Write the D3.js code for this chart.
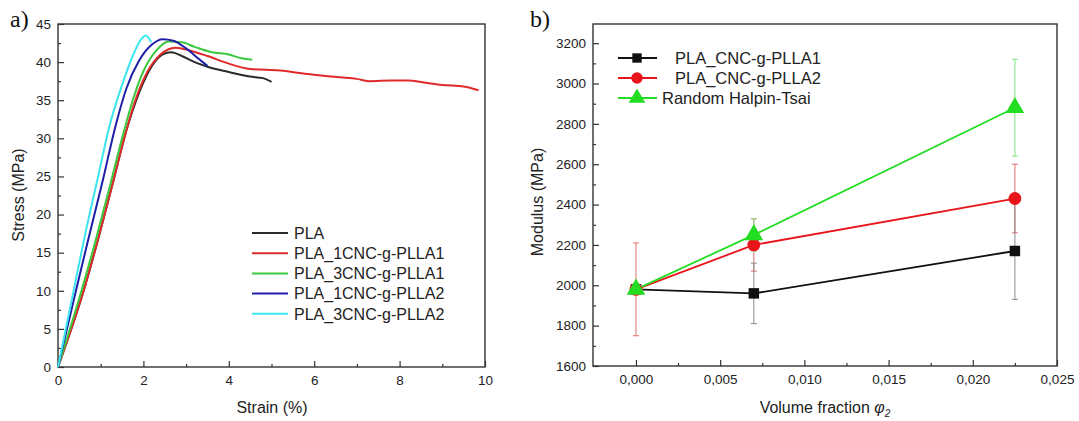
<!DOCTYPE html>
<html>
<head>
<meta charset="utf-8">
<script src="https://cdn.jsdelivr.net/npm/d3@7"></script>
<style>
  body { margin: 0; background: #fff; }
  svg { font-family: "Liberation Sans", Arial, sans-serif; }
</style>
</head>
<body>
<svg width="1079" height="421"></svg>
<script>
// ---- panel a data: stress-strain curves [strain %, stress MPa]
var pla = [[0,0],[0.6,10],[0.95,17],[1.3,24.5],[1.6,31],[1.9,36],[2.2,39.5],[2.45,41],[2.65,41.3],[2.9,40.8],[3.2,40],[3.5,39.4],[4,38.7],[4.5,38.1],[4.8,37.9],[5,37.4]];
var pla1a = [[0,0],[0.6,10],[0.95,17],[1.3,24.5],[1.55,30],[1.8,34.8],[2.1,38.8],[2.4,41],[2.75,41.9],[3.1,41.5],[3.5,40.8],[4,39.8],[4.5,39.1],[5.2,38.9],[5.9,38.4],[6.6,38],[7,37.8],[7.3,37.5],[7.8,37.6],[8.2,37.6],[8.6,37.3],[9,37],[9.5,36.8],[9.85,36.3]];
var pla3a = [[0,0],[0.55,10],[0.9,17],[1.25,24.5],[1.5,30],[1.75,35],[2,38.8],[2.3,41.5],[2.6,42.7],[2.9,42.6],[3.2,42],[3.6,41.3],[4,41],[4.3,40.5],[4.55,40.3]];
var pla1b = [[0,0],[0.42,10],[0.72,17],[1.05,24.5],[1.32,31],[1.6,36.5],[1.9,40.2],[2.2,42.3],[2.45,43],[2.7,42.8],[3,41.8],[3.3,40.4],[3.5,39.5]];
var pla3b = [[0,0],[0.33,9],[0.62,17],[0.92,24.5],[1.2,31.5],[1.5,37],[1.75,40.8],[1.95,43],[2.05,43.5],[2.12,43.2],[2.18,42.6]];
var curveNames = ["PLA", "PLA_1CNC-g-PLLA1", "PLA_3CNC-g-PLLA1", "PLA_1CNC-g-PLLA2", "PLA_3CNC-g-PLLA2"];
var curveColors = ["#2a2a2a", "#e02a2a", "#3cc83c", "#1e1ea8", "#3ce6ee"];
var curves = [pla, pla1a, pla3a, pla1b, pla3b];

// ---- panel b data: modulus vs volume fraction
var phi = [0, 0.007, 0.0225];
var modNames = ["PLA_CNC-g-PLLA1", "PLA_CNC-g-PLLA2", "Random Halpin-Tsai"];
var modColors = ["#111111", "#e8141a", "#22dd22"];
var errColors = ["#8a8a8a", "#e07070", "#80e080"];
var mod1 = [1980, 1960, 2170];
var mod2 = [1980, 2200, 2430];
var modHT = [1980, 2250, 2880];
var err1 = [0, 150, 240];
var err2 = [230, 130, 170];
var errHT = [0, 80, 240];

var svg = d3.select("svg");
var axisColor = "#333";

// ================= panel a =================
var xa = d3.scaleLinear().domain([0, 10]).range([58, 485]);
var ya = d3.scaleLinear().domain([0, 45]).range([367, 24]);

var ga = svg.append("g");

// frame
ga.append("rect").attr("x", 58).attr("y", 24).attr("width", 427).attr("height", 343)
  .attr("fill", "none").attr("stroke", axisColor).attr("stroke-width", 1.4);

function styleAxis(g) {
  g.select(".domain").remove();
  g.selectAll(".tick line").attr("stroke", axisColor).attr("stroke-width", 1.2);
  g.selectAll(".tick text").attr("fill", "#222").style("font-size", "13.5px");
}

ga.append("g").attr("transform", "translate(0,367)")
  .call(d3.axisBottom(xa).tickValues([0,2,4,6,8,10]).tickSizeInner(-6).tickSizeOuter(0).tickPadding(8))
  .call(styleAxis);
ga.append("g").attr("transform", "translate(0,367)")
  .call(d3.axisBottom(xa).tickValues([1,3,5,7,9]).tickSizeInner(-3).tickSizeOuter(0).tickFormat(""))
  .call(styleAxis);
ga.append("g").attr("transform", "translate(58,0)")
  .call(d3.axisLeft(ya).tickValues(d3.range(0, 46, 5)).tickSizeInner(-6).tickSizeOuter(0).tickPadding(7))
  .call(styleAxis);
ga.append("g").attr("transform", "translate(58,0)")
  .call(d3.axisLeft(ya).tickValues(d3.range(2.5, 45, 5)).tickSizeInner(-3).tickSizeOuter(0).tickFormat(""))
  .call(styleAxis);

var line = d3.line().x(function(d) { return xa(d[0]); }).y(function(d) { return ya(d[1]); }).curve(d3.curveMonotoneX);

curves.forEach(function(c, i) {
  ga.append("path").attr("d", line(c)).attr("fill", "none")
    .attr("stroke", curveColors[i]).attr("stroke-width", 2);
});

// legend a
curveNames.forEach(function(name, i) {
  var y = 233 + i * 20.2;
  ga.append("line").attr("x1", 252).attr("x2", 288).attr("y1", y).attr("y2", y)
    .attr("stroke", curveColors[i]).attr("stroke-width", 2);
  ga.append("text").attr("x", 294).attr("y", y).attr("dy", "0.36em")
    .style("font-size", "16px").attr("fill", "#222").text(name);
});

ga.append("text").attr("transform", "translate(24,195) rotate(-90)")
  .attr("text-anchor", "middle").style("font-size", "16px").attr("fill", "#222").text("Stress (MPa)");
ga.append("text").attr("x", 272).attr("y", 413).attr("text-anchor", "middle")
  .style("font-size", "16px").attr("fill", "#222").text("Strain (%)");
ga.append("text").attr("x", 10).attr("y", 27).style("font-family", "'Liberation Serif', serif")
  .style("font-size", "24px").attr("fill", "#111").text("a)");

// ================= panel b =================
var xb = d3.scaleLinear().domain([-0.00255, 0.025]).range([593, 1057]);
var yb = d3.scaleLinear().domain([1600, 3300]).range([366, 23]);
var commaFmt = d3.formatLocale({ decimal: ",", thousands: ".", grouping: [3], currency: ["", ""] }).format(".3f");

var gb = svg.append("g");
gb.append("rect").attr("x", 593).attr("y", 24).attr("width", 464).attr("height", 342)
  .attr("fill", "none").attr("stroke", axisColor).attr("stroke-width", 1.4);

gb.append("g").attr("transform", "translate(0,366)")
  .call(d3.axisBottom(xb).tickValues([0,0.005,0.01,0.015,0.02,0.025]).tickFormat(commaFmt)
    .tickSizeInner(-6).tickSizeOuter(0).tickPadding(8))
  .call(styleAxis);
gb.append("g").attr("transform", "translate(0,366)")
  .call(d3.axisBottom(xb).tickValues([0.0025,0.0075,0.0125,0.0175,0.0225]).tickSizeInner(-3).tickSizeOuter(0).tickFormat(""))
  .call(styleAxis);
gb.append("g").attr("transform", "translate(593,0)")
  .call(d3.axisLeft(yb).tickValues(d3.range(1600, 3201, 200)).tickFormat(d3.format("d"))
    .tickSizeInner(-6).tickSizeOuter(0).tickPadding(7))
  .call(styleAxis);
gb.append("g").attr("transform", "translate(593,0)")
  .call(d3.axisLeft(yb).tickValues(d3.range(1700, 3300, 200)).tickSizeInner(-3).tickSizeOuter(0).tickFormat(""))
  .call(styleAxis);

var modSeries = [mod1, mod2, modHT];
var errSeries = [err1, err2, errHT];
var symbols = [d3.symbolSquare, d3.symbolCircle, d3.symbolTriangle];
var symSizes = [110, 130, 150];

// error bars (drawn first, thin)
[1, 2, 0].forEach(function(s) {
  modSeries[s].forEach(function(v, i) {
    var e = errSeries[s][i];
    if (!e) return;
    var x = xb(phi[i]);
    var eg = gb.append("g").attr("stroke", errColors[s]).attr("stroke-width", 1);
    eg.append("line").attr("x1", x).attr("x2", x).attr("y1", yb(v - e)).attr("y2", yb(v + e));
    eg.append("line").attr("x1", x - 3).attr("x2", x + 3).attr("y1", yb(v - e)).attr("y2", yb(v - e));
    eg.append("line").attr("x1", x - 3).attr("x2", x + 3).attr("y1", yb(v + e)).attr("y2", yb(v + e));
  });
});

var lineB = d3.line().x(function(d, i) { return xb(phi[i]); }).y(function(d) { return yb(d); });
[0, 1, 2].forEach(function(s) {
  gb.append("path").attr("d", lineB(modSeries[s])).attr("fill", "none")
    .attr("stroke", modColors[s]).attr("stroke-width", 1.8);
});
[0, 1, 2].forEach(function(s) {
  gb.selectAll(null).data(modSeries[s]).enter().append("path")
    .attr("d", d3.symbol().type(symbols[s]).size(symSizes[s]))
    .attr("transform", function(d, i) { return "translate(" + xb(phi[i]) + "," + yb(d) + ")"; })
    .attr("fill", modColors[s]);
});

// legend b
var legX = [675, 675, 662];
modNames.forEach(function(name, i) {
  var y = 58 + i * 20;
  gb.append("line").attr("x1", 618).attr("x2", 657).attr("y1", y).attr("y2", y)
    .attr("stroke", modColors[i]).attr("stroke-width", 1.8);
  gb.append("path").attr("d", d3.symbol().type(symbols[i]).size(symSizes[i] * 0.8)())
    .attr("transform", "translate(637," + y + ")").attr("fill", modColors[i]);
  gb.append("text").attr("x", legX[i]).attr("y", y).attr("dy", "0.36em")
    .style("font-size", "16.5px").attr("fill", "#222").text(name);
});

gb.append("text").attr("transform", "translate(543,202) rotate(-90)")
  .attr("text-anchor", "middle").style("font-size", "16px").attr("fill", "#222").text("Modulus (MPa)");
var xt = gb.append("text").attr("x", 825).attr("y", 413).attr("text-anchor", "middle")
  .style("font-size", "16px").attr("fill", "#222");
xt.append("tspan").text("Volume fraction ");
xt.append("tspan").style("font-style", "italic").text("\u03c6");
xt.append("tspan").attr("dy", 4).style("font-size", "10px").style("font-style", "italic").text("2");
gb.append("text").attr("x", 530).attr("y", 27).style("font-family", "'Liberation Serif', serif")
  .style("font-size", "24px").attr("fill", "#111").text("b)");
</script>
</body>
</html>
